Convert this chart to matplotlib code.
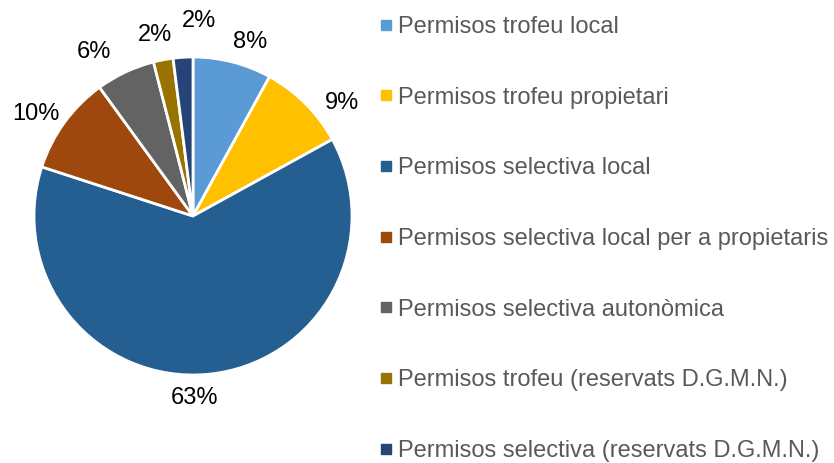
import matplotlib.pyplot as plt
from matplotlib.lines import Line2D

plt.rcParams['font.family'] = ['Liberation Sans', 'DejaVu Sans']

categories = [
    'Permisos trofeu local',
    'Permisos trofeu propietari',
    'Permisos selectiva local',
    'Permisos selectiva local per a propietaris',
    'Permisos selectiva autonòmica',
    'Permisos trofeu (reservats D.G.M.N.)',
    'Permisos selectiva (reservats D.G.M.N.)',
]
shares = [8, 9, 63, 10, 6, 2, 2]
colors = ['#5B9BD5', '#FFC000', '#255E91', '#9E480E', '#636363', '#997300', '#264478']

# small nudges of the data labels (Excel "best fit" placement)
label_nudge = [(0.07, -0.03), (0.12, -0.11), (-0.10, 0.01), (-0.05, -0.04),
               (-0.13, -0.02), (-0.02, 0.0), (0.11, 0.07)]

W, H = 834, 463
fig = plt.figure(figsize=(W / 100, H / 100), dpi=100)

# pie centre and radius in pixels
cx, cy, r = 193, 216, 159
lim = 1.3
ax = fig.add_axes([(cx - r * lim) / W, (H - cy - r * lim) / H,
                   2 * r * lim / W, 2 * r * lim / H])

wedges, texts = ax.pie(shares, colors=colors, startangle=90, counterclock=False,
                       labels=[f'{v}%' for v in shares], labeldistance=1.16,
                       wedgeprops=dict(edgecolor='white', linewidth=2),
                       textprops=dict(fontsize=17, color='#000000'))
for t, (dx, dy) in zip(texts, label_nudge):
    t.set_horizontalalignment('center')
    t.set_verticalalignment('center')
    x, y = t.get_position()
    t.set_position((x + dx, y + dy))
ax.set_xlim(-lim, lim)
ax.set_ylim(-lim, lim)
ax.set_aspect('equal')
ax.axis('off')

handles = [Line2D([], [], marker='s', linestyle='none', markersize=6.5,
                  markerfacecolor=c, markeredgecolor=c) for c in colors]
leg = fig.legend(handles, categories, loc='upper left',
                 bbox_to_anchor=(380 / W, 1 - 16 / H), frameon=False,
                 fontsize=17, labelcolor='#595959', handlelength=0.5,
                 handletextpad=0.27, labelspacing=2.06, borderpad=0,
                 borderaxespad=0)

fig.savefig('out.png', dpi=100)
